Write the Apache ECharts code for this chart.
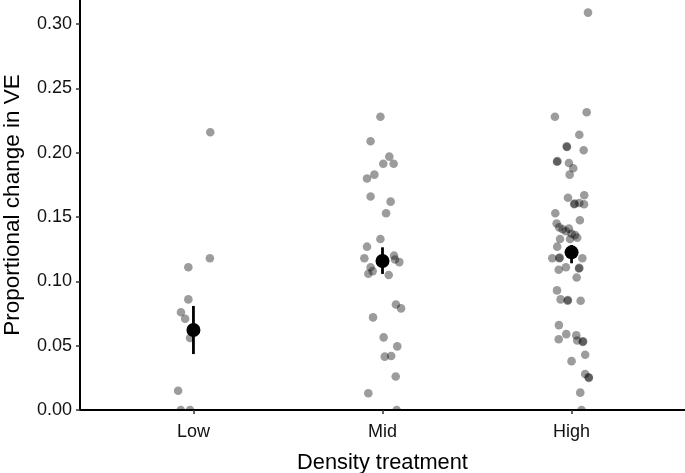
<!DOCTYPE html>
<html>
<head>
<meta charset="utf-8">
<script src="https://cdn.jsdelivr.net/npm/echarts@6/dist/echarts.min.js"></script>
<style>
html,body{margin:0;padding:0;background:#fff;}
#chart{width:685px;height:473px;}
</style>
</head>
<body>
<div id="chart"></div>
<script>
// ---- data ----
const categories = ['Low', 'Mid', 'High'];
const yTicks = [0, 0.05, 0.10, 0.15, 0.20, 0.25, 0.30];

const lowValues  = [0.216, 0.118, 0.111, 0.086, 0.076, 0.071, 0.056, 0.015, 0.000, 0.000];
const lowJitter  = [0.089, 0.087, -0.027, -0.027, -0.066, -0.044, -0.018, -0.081, -0.067, -0.018];

const midValues  = [0.228, 0.209, 0.197, 0.1915, 0.1915, 0.183, 0.180, 0.166, 0.162, 0.153,
                    0.133, 0.127, 0.118, 0.120, 0.115, 0.117, 0.111, 0.108, 0.106, 0.105,
                    0.082, 0.079, 0.072, 0.0565, 0.0495, 0.0415, 0.042, 0.026, 0.013, 0.000];
const midJitter  = [-0.011, -0.063, 0.036, 0.004, 0.059, -0.043, -0.082, -0.063, 0.043, 0.019,
                    -0.011, -0.082, -0.096, 0.061, 0.089, 0.066, -0.063, -0.052, -0.075, 0.033,
                    0.071, 0.098, -0.050, 0.006, 0.078, 0.012, 0.046, 0.070, -0.075, 0.075];

const highValues = [0.309, 0.2315, 0.228, 0.214, 0.205, 0.2045, 0.202, 0.193, 0.1935, 0.192,
                    0.188, 0.183, 0.165, 0.167, 0.160, 0.1605, 0.161, 0.160, 0.153, 0.1475,
                    0.145, 0.142, 0.1405, 0.139, 0.141, 0.137, 0.136, 0.134, 0.133, 0.127,
                    0.133, 0.118, 0.118, 0.1185, 0.118, 0.111, 0.109, 0.110, 0.1105, 0.103,
                    0.093, 0.086, 0.085, 0.0855, 0.085, 0.066, 0.059, 0.055, 0.058, 0.054,
                    0.053, 0.0535, 0.043, 0.038, 0.028, 0.025, 0.0255, 0.0135, 0.000];
const highJitter = [0.087, 0.080, -0.088, 0.041, -0.026, -0.024, 0.064, -0.077, -0.075, -0.014,
                    0.009, -0.010, -0.019, 0.067, 0.014, 0.016, 0.041, 0.066, -0.086, 0.044,
                    -0.079, -0.065, -0.047, -0.030, -0.014, 0.000, 0.018, 0.030, -0.061, -0.076,
                    -0.008, -0.102, -0.065, -0.063, 0.057, -0.030, -0.068, 0.039, 0.041, 0.027,
                    -0.077, -0.058, -0.021, -0.019, 0.048, -0.067, -0.028, -0.068, 0.025, 0.030,
                    0.059, 0.061, 0.072, 0.000, 0.072, 0.092, 0.090, 0.046, 0.053];

const meanValues = [0.0622, 0.1159, 0.1226];
const lowerCI    = [0.0435, 0.1058, 0.1141];
const upperCI    = [0.0809, 0.1265, 0.1283];

// ---- build series data ----
const groups = [[lowValues, lowJitter], [midValues, midJitter], [highValues, highJitter]];
const rawPoints = [];
groups.forEach(function (g, i) {
  g[0].forEach(function (v, j) { rawPoints.push([i + 1 + g[1][j], v]); });
});
const meanPoints = meanValues.map(function (v, i) { return [i + 1, v]; });
const barData = meanValues.map(function (v, i) { return [i + 1, lowerCI[i], upperCI[i]]; });

const font = 'Liberation Sans, Arial, Helvetica, sans-serif';
const chart = echarts.init(document.getElementById('chart'));
chart.setOption({
  animation: false,
  backgroundColor: '#ffffff',
  grid: { left: 80, right: 0, top: 0, bottom: 63, containLabel: false, outerBoundsMode: 'none' },
  xAxis: {
    type: 'value', min: 0.4, max: 3.6,
    name: 'Density treatment', nameLocation: 'middle', nameGap: 41.5,
    nameTextStyle: { fontFamily: font, fontSize: 21.8, color: '#000' },
    axisLine: { show: true, onZero: false, lineStyle: { color: '#000', width: 2 } },
    axisTick: { show: true, length: 4, customValues: [1, 2, 3], lineStyle: { color: '#333', width: 1.5 } },
    axisLabel: { customValues: [1, 2, 3], margin: 13, fontFamily: font, fontSize: 18, color: '#111',
      formatter: function (v) { return categories[Math.round(v) - 1] || ''; } },
    splitLine: { show: false }
  },
  yAxis: {
    type: 'value', min: 0, max: 0.3188,
    name: 'Proportional change in VE', nameLocation: 'middle', nameGap: 56,
    nameTextStyle: { fontFamily: font, fontSize: 22.5, color: '#000' },
    axisLine: { show: true, lineStyle: { color: '#000', width: 2 } },
    axisTick: { show: true, length: 4, customValues: yTicks, lineStyle: { color: '#333', width: 1.5 } },
    axisLabel: { customValues: yTicks, margin: 8, fontFamily: font, fontSize: 18, color: '#111',
      formatter: function (v) { return v.toFixed(2); } },
    splitLine: { show: false }
  },
  series: [
    {
      type: 'custom', clip: true, z: 2,
      data: rawPoints,
      renderItem: function (params, api) {
        const p = api.coord([api.value(0), api.value(1)]);
        return { type: 'circle', shape: { cx: p[0], cy: p[1], r: 4.3 }, style: { fill: 'rgba(0,0,0,0.39)' } };
      }
    },
    {
      type: 'custom', z: 3,
      data: barData,
      renderItem: function (params, api) {
        const a = api.coord([api.value(0), api.value(1)]);
        const b = api.coord([api.value(0), api.value(2)]);
        return { type: 'line', shape: { x1: a[0], y1: a[1], x2: b[0], y2: b[1] }, style: { stroke: '#000', lineWidth: 2.8 } };
      }
    },
    {
      type: 'scatter', z: 4,
      data: meanPoints, symbol: 'circle', symbolSize: 14,
      itemStyle: { color: '#000', opacity: 1 }
    }
  ]
});
</script>
</body>
</html>
